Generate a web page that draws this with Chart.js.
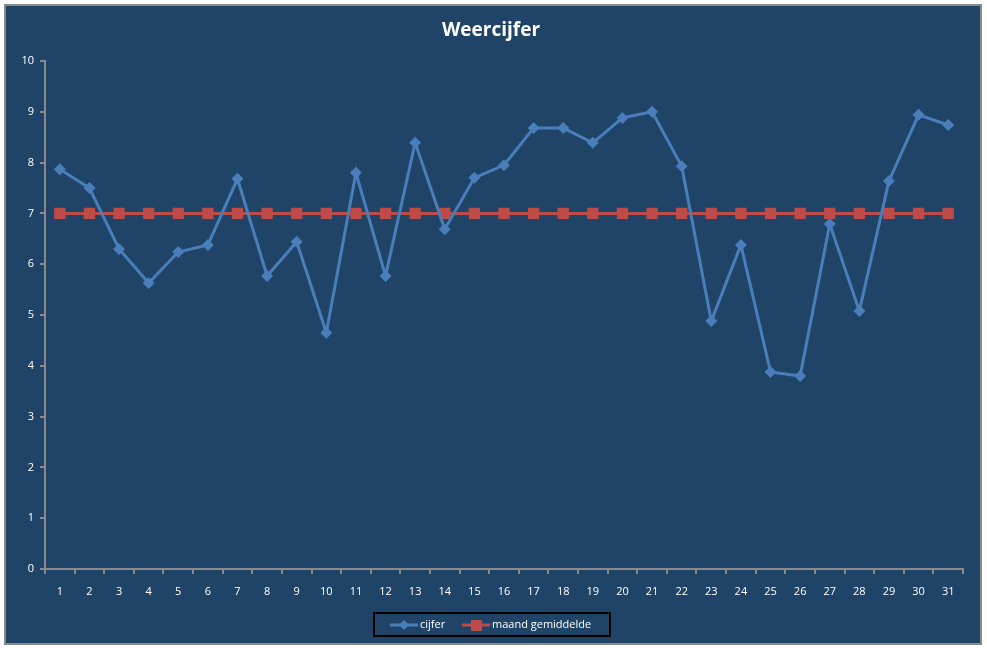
<!DOCTYPE html>
<html>
<head>
<meta charset="utf-8">
<script src="https://cdn.jsdelivr.net/npm/chart.js@4/dist/chart.umd.min.js"></script>
<style>
html,body{margin:0;padding:0;background:#fff;}
#wrap{position:absolute;left:0;top:0;width:987px;height:648px;}
</style>
</head>
<body>
<div id="wrap"><canvas id="c" width="987" height="648"></canvas></div>
<script>
const chartTitle = "Weercijfer";
const days = ["1","2","3","4","5","6","7","8","9","10","11","12","13","14","15","16","17","18","19","20","21","22","23","24","25","26","27","28","29","30","31"];
const cijfer = [7.87,7.50,6.30,5.63,6.24,6.38,7.68,5.77,6.44,4.65,7.80,5.77,8.39,6.69,7.70,7.95,8.68,8.68,8.39,8.88,9.00,7.93,4.88,6.38,3.88,3.80,6.79,5.08,7.64,8.94,8.74];
const gemiddelde = [7,7,7,7,7,7,7,7,7,7,7,7,7,7,7,7,7,7,7,7,7,7,7,7,7,7,7,7,7,7,7];
const seriesNames = ["cijfer","maand gemiddelde"];

const BG = '#1F4467';
const BLUE = '#4A7EBB';
const RED = '#BE4B48';
const FONT = "'Open Sans', 'DejaVu Sans', sans-serif";

const frame = {
  id:'frame',
  beforeDraw(chart){
    const ctx = chart.ctx;
    ctx.save();
    ctx.fillStyle = '#ffffff';
    ctx.fillRect(0,0,987,648);
    ctx.fillStyle = BG;
    ctx.fillRect(5,5,976,639);
    ctx.strokeStyle = '#8a8a8a';
    ctx.lineWidth = 2;
    ctx.strokeRect(5,5,976,639);
    ctx.restore();
  },
  afterDraw(chart){
    const ctx = chart.ctx;
    ctx.save();
    ctx.fillStyle = '#ffffff';
    ctx.font = "bold 19px " + FONT;
    ctx.textAlign = 'center';
    ctx.textBaseline = 'middle';
    ctx.fillText(chartTitle, 491, 31);
    ctx.strokeStyle = '#000000';
    ctx.lineWidth = 2;
    ctx.strokeRect(374, 613, 236, 23);
    ctx.font = "11px " + FONT;
    ctx.textAlign = 'left';
    ctx.textBaseline = 'middle';
    const ly = 625;
    ctx.strokeStyle = BLUE; ctx.lineWidth = 3;
    ctx.beginPath(); ctx.moveTo(390,ly); ctx.lineTo(418,ly); ctx.stroke();
    ctx.fillStyle = BLUE;
    ctx.beginPath(); ctx.moveTo(404,ly-5); ctx.lineTo(409,ly); ctx.lineTo(404,ly+5); ctx.lineTo(399,ly); ctx.closePath(); ctx.fill();
    ctx.fillStyle = '#ffffff';
    ctx.fillText(seriesNames[0], 420, ly);
    ctx.strokeStyle = RED; ctx.lineWidth = 3;
    ctx.beginPath(); ctx.moveTo(462,ly); ctx.lineTo(490,ly); ctx.stroke();
    ctx.fillStyle = RED;
    ctx.fillRect(471,ly-5,11,11);
    ctx.fillStyle = '#ffffff';
    ctx.fillText(seriesNames[1], 492, ly);
    ctx.restore();
  }
};

new Chart(document.getElementById('c'), {
  type:'line',
  data:{
    labels: days,
    datasets:[
      {label:seriesNames[0], data:cijfer, borderColor:BLUE, backgroundColor:BLUE, borderWidth:3,
       pointStyle:'rectRot', pointRadius:6, pointHoverRadius:6, pointBorderWidth:0, tension:0},
      {label:seriesNames[1], data:gemiddelde, borderColor:RED, backgroundColor:RED, borderWidth:3,
       pointStyle:'rect', pointRadius:8, pointHoverRadius:8, pointBorderWidth:0, tension:0}
    ]
  },
  options:{
    responsive:false,
    animation:false,
    events:[],
    layout:{padding:{left:0,right:24,top:61,bottom:0}},
    plugins:{legend:{display:false}, title:{display:false}, tooltip:{enabled:false}},
    scales:{
      x:{
        offset:true,
        grid:{offset:true, drawOnChartArea:false, drawTicks:true, tickLength:5, color:'#8a8a8a', lineWidth:2},
        border:{color:'#8a8a8a', width:2},
        ticks:{color:'#ffffff', font:{family:FONT, size:11}, padding:11, maxRotation:0, autoSkip:false},
        afterFit(s){ s.height = 79; }
      },
      y:{
        min:0, max:10,
        grid:{drawOnChartArea:false, drawTicks:true, tickLength:5, color:'#8a8a8a', lineWidth:2},
        border:{color:'#8a8a8a', width:2},
        ticks:{stepSize:1, color:'#ffffff', font:{family:FONT, size:11}, padding:6},
        afterFit(s){ s.width = 45; }
      }
    }
  },
  plugins:[frame]
});
</script>
</body>
</html>
